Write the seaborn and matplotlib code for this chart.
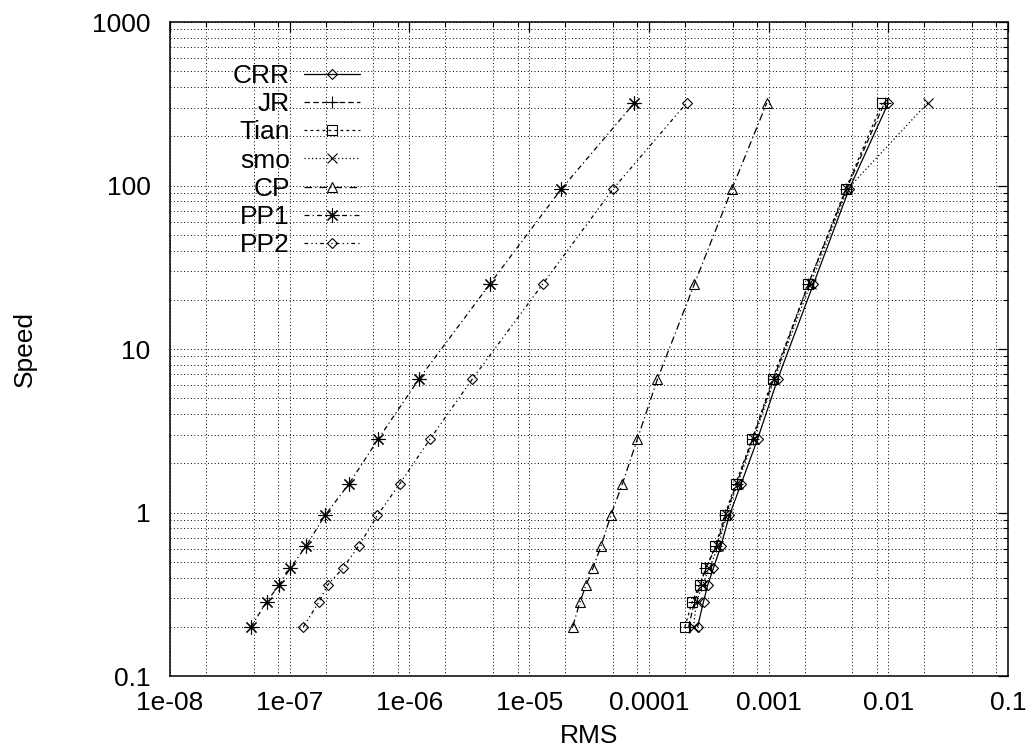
import matplotlib
matplotlib.use("Agg")
import matplotlib.pyplot as plt
import matplotlib.ticker as mticker
import seaborn as sns
import pandas as pd

# Speed levels shared by every method
speed = [0.2, 0.285, 0.36, 0.455, 0.625, 0.96, 1.5, 2.82, 6.55, 25, 95, 320]

# RMS error per method at each speed level
rms_crr = [2.55e-4, 2.86e-4, 3.1e-4, 3.45e-4, 4.0e-4, 4.7e-4, 5.9e-4, 8.1e-4, 1.19e-3, 2.37e-3, 4.7e-3, 1.0e-2]
rms_jr = [2.15e-4, 2.4e-4, 2.7e-4, 2.97e-4, 3.67e-4, 4.36e-4, 5.4e-4, 7.35e-4, 1.1e-3, 2.15e-3, 4.47e-3, 9.3e-3]
rms_tian = [2.0e-4, 2.3e-4, 2.65e-4, 3.0e-4, 3.6e-4, 4.3e-4, 5.3e-4, 7.3e-4, 1.08e-3, 2.15e-3, 4.4e-3, 8.9e-3]
rms_smo = [2.36e-4, 2.5e-4, 2.8e-4, 3.2e-4, 3.8e-4, 4.45e-4, 5.5e-4, 7.5e-4, 1.12e-3, 2.24e-3, 4.56e-3, 2.13e-2]
rms_cp = [2.31e-5, 2.66e-5, 2.99e-5, 3.4e-5, 3.99e-5, 4.81e-5, 6.01e-5, 8.02e-5, 1.18e-4, 2.4e-4, 4.93e-4, 9.66e-4]
rms_pp1 = [4.75e-8, 6.43e-8, 8.15e-8, 1.01e-7, 1.37e-7, 1.97e-7, 3.13e-7, 5.5e-7, 1.2e-6, 4.7e-6, 1.85e-5, 7.57e-5]
rms_pp2 = [1.3e-7, 1.76e-7, 2.07e-7, 2.77e-7, 3.77e-7, 5.4e-7, 8.3e-7, 1.49e-6, 3.35e-6, 1.3e-5, 5.0e-5, 2.07e-4]

methods = ["CRR", "JR", "Tian", "smo", "CP", "PP1", "PP2"]
series = [rms_crr, rms_jr, rms_tian, rms_smo, rms_cp, rms_pp1, rms_pp2]

x_ticks = [1e-8, 1e-7, 1e-6, 1e-5, 1e-4, 1e-3, 1e-2, 1e-1]
x_tick_labels = ["1e-08", "1e-07", "1e-06", "1e-05", "0.0001", "0.001", "0.01", "0.1"]
y_ticks = [0.1, 1, 10, 100, 1000]
y_tick_labels = ["0.1", "1", "10", "100", "1000"]

# Line and point styles, one per method
styles = {
    "CRR": dict(linestyle="-", marker="D", markersize=5.5),
    "JR": dict(linestyle=(0, (4.5, 2.5)), marker="+", markersize=9),
    "Tian": dict(linestyle=(0, (2.2, 2.6)), marker="s", markersize=6.5),
    "smo": dict(linestyle=(0, (1.0, 2.0)), marker="x", markersize=7),
    "CP": dict(linestyle=(0, (6, 2.5, 1, 2.5)), marker="^", markersize=7),
    "PP1": dict(linestyle=(0, (4, 2.5, 1, 2.5)), marker=(8, 2, 0), markersize=10),
    "PP2": dict(linestyle=(0, (3, 2.5, 1, 2.5, 1, 2.5)), marker="D", markersize=5.5),
}

frames = []
for name, vals in zip(methods, series):
    frames.append(pd.DataFrame({"RMS": vals, "Speed": speed, "method": name}))
df = pd.concat(frames, ignore_index=True)

sns.set_style("white")
plt.rcParams["font.family"] = ["Liberation Sans", "DejaVu Sans"]
plt.rcParams["text.color"] = "black"
plt.rcParams["axes.labelcolor"] = "black"
plt.rcParams["xtick.color"] = "black"
plt.rcParams["ytick.color"] = "black"
FS = 19

fig = plt.figure(figsize=(10.26, 7.46), dpi=100)
ax = fig.add_axes([0.1657, 0.0938, 0.8168, 0.8767])

for name in methods:
    sub = df[df["method"] == name]
    st = styles[name]
    sns.lineplot(
        data=sub, x="RMS", y="Speed", ax=ax, sort=False, estimator=None,
        color="black", linewidth=0.9, linestyle=st["linestyle"],
        marker=st["marker"], markersize=st["markersize"],
        markerfacecolor="none", markeredgecolor="black", markeredgewidth=0.8,
        label=name,
    )

ax.set_xscale("log")
ax.set_yscale("log")
ax.set_xlim(1e-8, 0.1)
ax.set_ylim(0.1, 1000)

ax.xaxis.set_major_locator(mticker.FixedLocator(x_ticks))
ax.xaxis.set_major_formatter(mticker.FixedFormatter(x_tick_labels))
ax.yaxis.set_major_locator(mticker.FixedLocator(y_ticks))
ax.yaxis.set_major_formatter(mticker.FixedFormatter(y_tick_labels))
ax.xaxis.set_minor_locator(mticker.LogLocator(base=10, subs=(2, 5, 8), numticks=20))
ax.yaxis.set_minor_locator(mticker.LogLocator(base=10, subs=(2, 3, 4, 5, 6, 7, 8, 9), numticks=20))
ax.xaxis.set_minor_formatter(mticker.NullFormatter())
ax.yaxis.set_minor_formatter(mticker.NullFormatter())

ax.grid(True, which="both", color="black", linestyle=(0, (1, 2.5)), linewidth=0.7)
ax.tick_params(which="major", direction="in", length=7, width=0.9,
               top=True, right=True, labelsize=FS, colors="black")
ax.tick_params(which="minor", direction="in", length=3.5, width=0.8,
               top=True, right=True, colors="black")
ax.tick_params(axis="x", which="major", pad=11)
ax.tick_params(axis="y", which="major", pad=14)

for sp in ax.spines.values():
    sp.set_color("black")
    sp.set_linewidth(1.1)

ax.set_xlabel("RMS", fontsize=FS, labelpad=6, color="black")
ax.set_ylabel("Speed", fontsize=FS, labelpad=40, color="black")

handles, labels = ax.get_legend_handles_labels()
leg = ax.legend(handles, labels, loc="upper right", bbox_to_anchor=(0.239, 0.952),
                markerfirst=False, frameon=False, fontsize=FS, handlelength=2.1,
                handletextpad=0.55, labelspacing=0.16, borderaxespad=0.0,
                labelcolor="black")

fig.savefig("out.png", dpi=100)
